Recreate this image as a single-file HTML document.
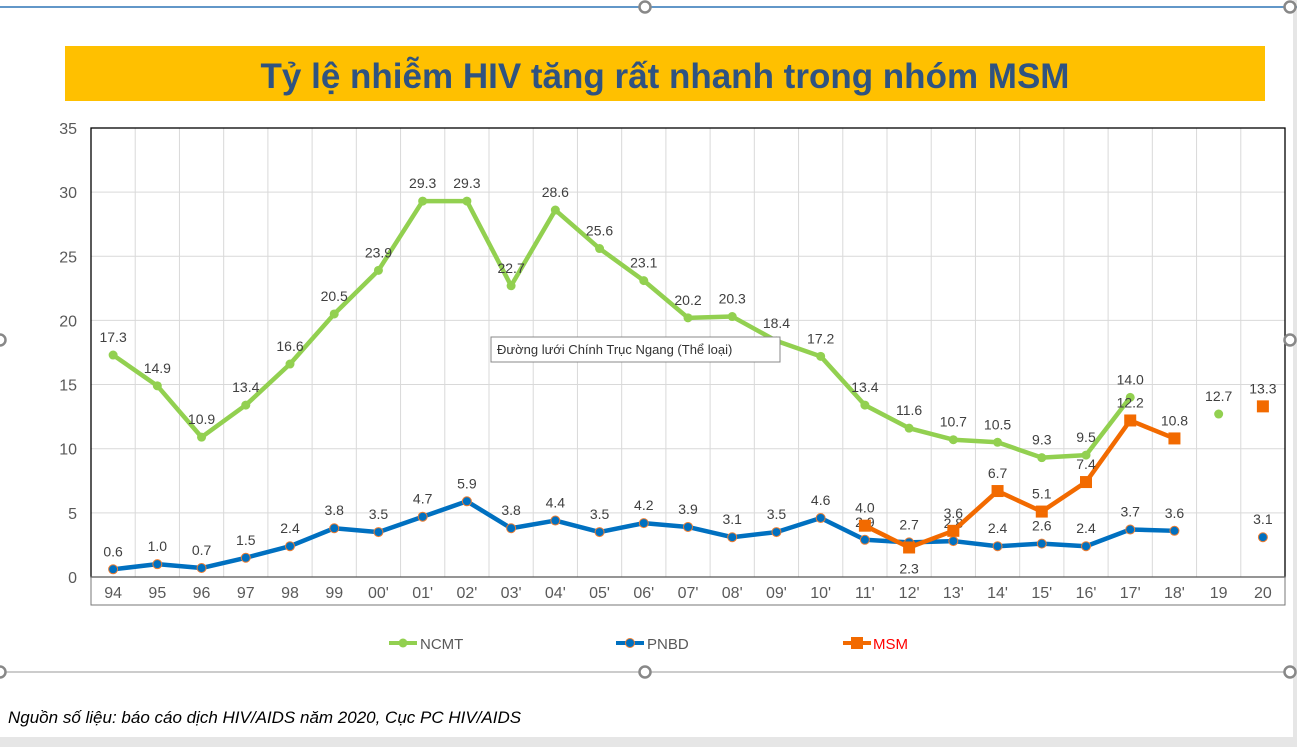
<!DOCTYPE html>
<html><head><meta charset="utf-8"><style>
html,body{margin:0;padding:0;background:#fff;}
body{width:1297px;height:747px;position:relative;overflow:hidden;font-family:"Liberation Sans",sans-serif;}
</style></head><body>
<svg id="s" width="1297" height="747" xmlns="http://www.w3.org/2000/svg" style="position:absolute;left:0;top:0">
<rect x="1293" y="0" width="4" height="747" fill="#e6e6e6"/>
<rect x="0" y="737" width="1297" height="10" fill="#e6e6e6"/>
<line x1="0" y1="7" x2="1297" y2="7" stroke="#2e75b6" stroke-width="1.5"/>
<line x1="0" y1="672" x2="1290" y2="672" stroke="#999" stroke-width="1"/>
<rect x="65" y="46" width="1200" height="55" fill="#ffc000"/>
<text x="665" y="88" text-anchor="middle" font-size="35" font-weight="bold" fill="#2f5381">Tỷ lệ nhiễm HIV tăng rất nhanh trong nhóm MSM</text>
<g id="g"></g>
<rect x="491" y="337" width="289" height="25" fill="#fff" stroke="#888"/>
<text x="497" y="354" font-size="13" fill="#333">Đường lưới Chính Trục Ngang (Thể loại)</text>
<text x="8" y="723" font-size="17" font-style="italic" fill="#000">Nguồn số liệu: báo cáo dịch HIV/AIDS năm 2020, Cục PC HIV/AIDS</text>
<g fill="#fff" stroke="#888" stroke-width="2.5">
<circle cx="645" cy="7" r="5.5"/><circle cx="1290" cy="7" r="5.5"/><circle cx="1290" cy="340" r="5.5"/><circle cx="1290" cy="672" r="5.5"/><circle cx="645" cy="672" r="5.5"/><circle cx="0" cy="340" r="5.5"/><circle cx="0" cy="672" r="5.5"/>
</g>
</svg>
<script>
var g=document.getElementById('g'),h='';
var L=91,R=1285,T=128,B=577,step=(R-L)/27,py=12.83;
function X(i){return L+step*(i+0.5)}function Y(v){return B-v*py}
for(var k=1;k<=7;k++){var y=B-k*5*py;h+='<line x1="'+L+'" y1="'+y+'" x2="'+R+'" y2="'+y+'" stroke="#d9d9d9"/>';}
for(var i=1;i<27;i++){var x=L+i*step;h+='<line x1="'+x+'" y1="'+T+'" x2="'+x+'" y2="'+B+'" stroke="#d9d9d9"/>';}
h+='<rect x="'+L+'" y="'+T+'" width="'+(R-L)+'" height="'+(B-T)+'" fill="none" stroke="#000" stroke-width="1.3"/>';
h+='<rect x="'+L+'" y="'+B+'" width="'+(R-L)+'" height="28" fill="none" stroke="#777"/>';
for(var k=0;k<=7;k++)h+='<text x="77" y="'+(B-k*5*py+6)+'" text-anchor="end" font-size="16" fill="#595959">'+(k*5)+'</text>';
var cats=["94","95","96","97","98","99","00'","01'","02'","03'","04'","05'","06'","07'","08'","09'","10'","11'","12'","13'","14'","15'","16'","17'","18'","19","20"];
cats.forEach(function(c,i){h+='<text x="'+X(i)+'" y="598" text-anchor="middle" font-size="16" fill="#595959">'+c+'</text>';});
var N=[17.3,14.9,10.9,13.4,16.6,20.5,23.9,29.3,29.3,22.7,28.6,25.6,23.1,20.2,20.3,18.4,17.2,13.4,11.6,10.7,10.5,9.3,9.5,14.0,null,12.7,null];
var P=[0.6,1.0,0.7,1.5,2.4,3.8,3.5,4.7,5.9,3.8,4.4,3.5,4.2,3.9,3.1,3.5,4.6,2.9,2.7,2.8,2.4,2.6,2.4,3.7,3.6,null,3.1];
var M=[];for(i=0;i<27;i++)M.push(null);[4.0,2.3,3.6,6.7,5.1,7.4,12.2,10.8].forEach(function(v,j){M[17+j]=v});M[26]=13.3;
function line(d,col,n){var p=[];for(var i=0;i<n;i++)if(d[i]!=null)p.push(X(i)+','+Y(d[i]));return '<polyline points="'+p.join(' ')+'" fill="none" stroke="'+col+'" stroke-width="4.5" stroke-linejoin="round"/>';}
function lab(x,y,t){return '<text x="'+x+'" y="'+y+'" text-anchor="middle" font-size="14" fill="#404040">'+t+'</text>';}
h+=line(N,'#92d050',24);
N.forEach(function(v,i){if(v!=null){h+='<circle cx="'+X(i)+'" cy="'+Y(v)+'" r="4.5" fill="#92d050"/>';h+=lab(X(i),Y(v)-13,v.toFixed(1));}});
h+=line(P,'#0070c0',25);
P.forEach(function(v,i){if(v!=null){h+='<circle cx="'+X(i)+'" cy="'+Y(v)+'" r="4.5" fill="#0070c0" stroke="#ed7d31" stroke-width="1"/>';h+=lab(X(i),Y(v)-13,v.toFixed(1));}});
var mp=[];for(i=17;i<25;i++)mp.push(X(i)+','+Y(M[i]));
h+='<polyline points="'+mp.join(' ')+'" fill="none" stroke="#f26a00" stroke-width="4.5" stroke-linejoin="round"/>';
M.forEach(function(v,i){if(v!=null){h+='<rect x="'+(X(i)-6)+'" y="'+(Y(v)-6)+'" width="12" height="12" fill="#f26a00"/>';var ly=(i==18)?Y(v)+26:Y(v)-13;h+=lab(X(i),ly,v.toFixed(1));}});
h+='<line x1="389" y1="643" x2="417" y2="643" stroke="#92d050" stroke-width="4"/><circle cx="403" cy="643" r="4.5" fill="#92d050"/>';
h+='<text x="420" y="649" font-size="15" fill="#595959">NCMT</text>';
h+='<line x1="616" y1="643" x2="644" y2="643" stroke="#0070c0" stroke-width="4"/><circle cx="630" cy="643" r="4.5" fill="#0070c0" stroke="#ed7d31"/>';
h+='<text x="647" y="649" font-size="15" fill="#595959">PNBD</text>';
h+='<line x1="843" y1="643" x2="871" y2="643" stroke="#f26a00" stroke-width="4"/><rect x="851" y="637" width="12" height="12" fill="#f26a00"/>';
h+='<text x="873" y="649" font-size="15" fill="#ff0000">MSM</text>';
g.innerHTML=h;
</script>
</body></html>
